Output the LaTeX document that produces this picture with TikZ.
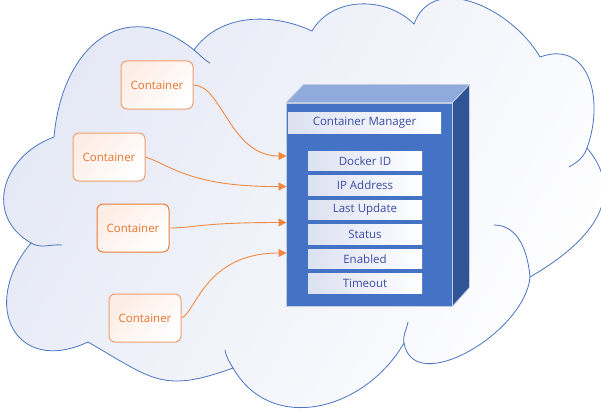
\documentclass[tikz,border=0pt]{standalone}
\usepackage{fontspec}
\setmainfont{Open Sans}
\usetikzlibrary{arrows.meta}
\definecolor{cloudline}{HTML}{4A74C0}
\definecolor{cloudfill}{HTML}{E4E8F5}
\definecolor{boxblue}{HTML}{4472C4}
\definecolor{boxtop}{HTML}{8FAADC}
\definecolor{boxside}{HTML}{2F5597}
\definecolor{boxedge}{HTML}{C3CCE0}
\definecolor{fieldtext}{HTML}{3A4BA6}
\definecolor{fieldfill}{HTML}{DCE1F1}
\definecolor{orangeline}{HTML}{EE9E6E}
\definecolor{orangedark}{HTML}{E67D38}
\definecolor{orangetext}{HTML}{E8742E}
\definecolor{orangefill}{HTML}{FDEDE4}
\definecolor{arrowc}{HTML}{F08A42}
\begin{document}
\begin{tikzpicture}[x=1pt,y=1pt,font=\fontsize{11.5}{13}\selectfont,
  container/.style={draw=orangeline,line width=1pt,rounded corners=6pt,
    minimum width=72pt,minimum height=48pt,inner sep=0pt,text=orangetext,
    top color=orangefill,bottom color=white,shading angle=45},
  field/.style={draw=none,left color=fieldfill,right color=white,
    minimum width=114pt,minimum height=19.5pt,inner sep=0pt,text=fieldtext},
  link/.style={draw=arrowc,line width=0.9pt,-{Triangle[length=8pt,width=8pt]}},
  cloudstroke/.style={draw=cloudline,line width=0.8pt}
]
\useasboundingbox (0,0) rectangle (601,-409);
% cloud
\path[cloudstroke,top color=cloudfill,bottom color=white,shading angle=60]
 (54,-137) to[out=85,in=141,looseness=1.4] (194,-50)
 to[out=55,in=155,looseness=0.95] (312,-31)
 to[out=60,in=135] (414,-24)
 to[out=70,in=120,looseness=1.1] (540,-57)
 to[out=20,in=70,looseness=1.3] (587,-148)
 to[out=-50,in=30,looseness=1.2] (530,-277)
 to[out=-95,in=-80] (404,-343)
 to[out=-120,in=-60,looseness=1.15] (233,-368)
 to[out=-160,in=-30,looseness=1.3] (88,-342)
 to[out=-155,in=-130,looseness=1.8] (31,-243)
 to[out=150,in=-160,looseness=1.3] (54,-137) -- cycle;
\draw[cloudstroke] (194,-50) to[out=-39,in=150] (210,-63);
\draw[cloudstroke] (587,-148) to[out=-110,in=30] (569,-167);
\draw[cloudstroke] (494,-225) to[out=0,in=95] (530,-277);
\draw[cloudstroke] (404,-343) to[out=100,in=-100] (408,-322);
\draw[cloudstroke] (233,-368) to[out=120,in=-80] (225,-350);
\draw[cloudstroke] (31,-243) to[out=-30,in=175] (62,-245);
% manager box
\node[draw=boxedge,fill=boxblue,line width=0.8pt,minimum width=165.5pt,
  minimum height=203pt,inner sep=0pt] (mgr) at (369.25,-204.5) {};
\draw[draw=boxedge,fill=boxtop,line width=0.8pt,line join=round]
  (mgr.north west) -- ++(17.5,18) -- ++(165.5,0) -- (mgr.north east) -- cycle;
\draw[draw=boxedge,fill=boxside,line width=0.8pt,line join=round]
  (mgr.north east) -- ++(17,18) -- ++(0,-203) -- (mgr.south east) -- cycle;
\node[field,minimum width=153pt,minimum height=21pt] (title) at (364.5,-122.5) {Container Manager};
\node[field] (f1) at (365,-161) {Docker ID};
\node[field] (f2) at (365,-185.5) {IP Address};
\node[field] (f3) at (365,-210) {Last Update};
\node[field] (f4) at (365,-234.5) {Status};
\node[field] (f5) at (365,-259) {Enabled};
\node[field] (f6) at (365,-283.5) {Timeout};
\coordinate (in1) at (286.5,-156);
\coordinate (in2) at (286.5,-186.5);
\coordinate (in3) at (286.5,-222.5);
\coordinate (in4) at (286.5,-253);
% containers
\node[container] (c1) at (157,-85) {Container};
\node[container] (c2) at (109,-157) {Container};
\node[container,draw=orangedark] (c3) at (133,-228) {Container};
\node[container] (c4) at (145,-318) {Container};
% links
\draw[link] (c1.east) .. controls (222,-85) and (230,-156) .. (in1);
\draw[link] (c2.east) .. controls (170,-165) and (190,-187) .. (in2);
\draw[link] (c3.east) .. controls (195,-228) and (200,-222.5) .. (in3);
\draw[link] (c4.east) .. controls (196,-312) and (205,-253) .. (in4);
\end{tikzpicture}
\end{document}
